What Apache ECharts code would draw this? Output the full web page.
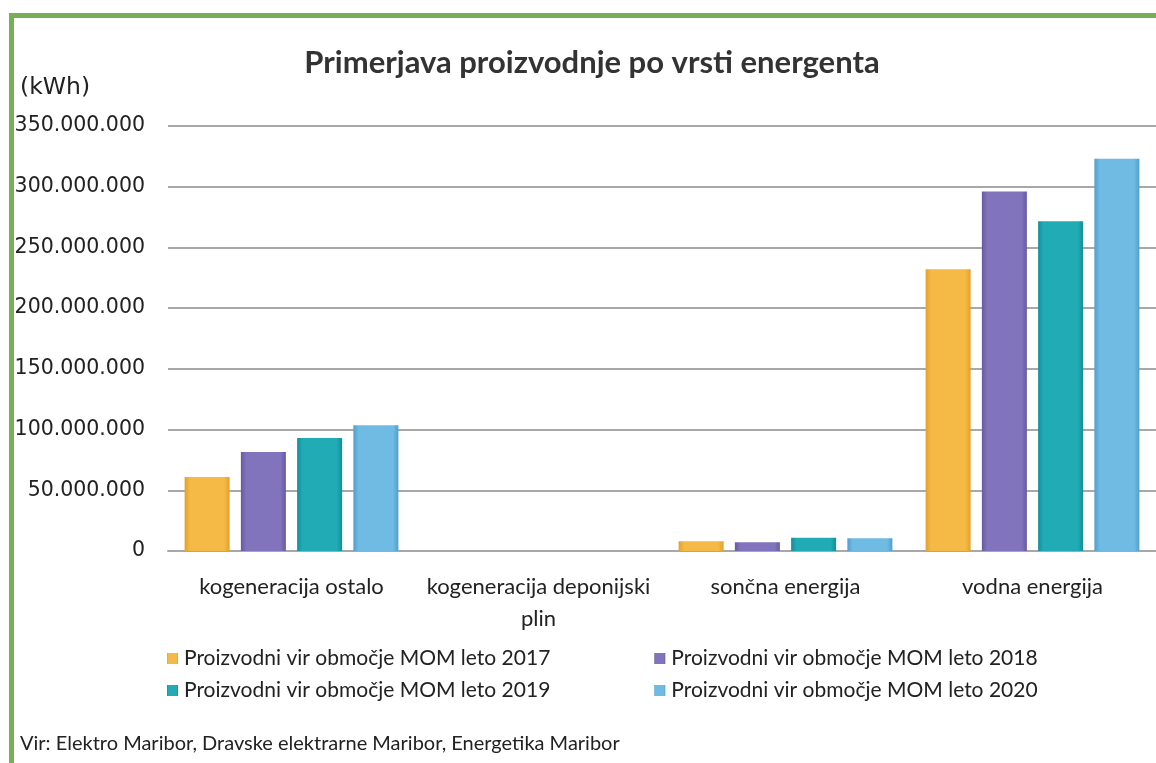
<!DOCTYPE html>
<html>
<head>
<meta charset="utf-8">
<script src="https://cdn.jsdelivr.net/npm/echarts@6/dist/echarts.min.js"></script>
<style>html,body{margin:0;padding:0;background:#fff;}#c{width:1156px;height:763px;}</style>
</head>
<body>
<div id="c"></div>
<script>
const categories = ['kogeneracija ostalo', 'kogeneracija deponijski\nplin', 'sončna energija', 'vodna energija'];
const seriesNames = ['Proizvodni vir območje MOM leto 2017', 'Proizvodni vir območje MOM leto 2018', 'Proizvodni vir območje MOM leto 2019', 'Proizvodni vir območje MOM leto 2020'];
const values2017 = [61000000, 0, 8000000, 232000000];
const values2018 = [81500000, 0, 7200000, 296000000];
const values2019 = [93000000, 0, 11000000, 271500000];
const values2020 = [103500000, 0, 10500000, 323000000];
const yTicks = [0, 50000000, 100000000, 150000000, 200000000, 250000000, 300000000, 350000000];

const colors = [
  ['#E3A02A', '#F4BA45'],
  ['#665AA3', '#8174BD'],
  ['#10909A', '#21ABB5'],
  ['#509FCC', '#6FBBE3']
];
const allValues = [values2017, values2018, values2019, values2020];

function fmt(v) {
  return String(v).replace(/\B(?=(\d{3})+(?!\d))/g, '.');
}
const textFont = "'Lato', sans-serif";

const chart = echarts.init(document.getElementById('c'));
const series = allValues.map((vals, i) => ({
  name: seriesNames[i],
  type: 'bar',
  data: vals,
  barWidth: 45,
  barGap: '25%',
  itemStyle: {
    color: new echarts.graphic.LinearGradient(0, 0, 1, 0, [
      {offset: 0, color: colors[i][0]},
      {offset: 0.12, color: colors[i][1]},
      {offset: 0.88, color: colors[i][1]},
      {offset: 1, color: colors[i][0]}
    ]),
    borderWidth: 0
  }
}));

chart.setOption({
  animation: false,
  backgroundColor: '#fff',
  color: colors.map(c => c[1]),
  title: {
    text: 'Primerjava proizvodnje po vrsti energenta',
    left: 587, top: 42, textAlign: 'center',
    textStyle: {fontFamily: textFont, fontWeight: 'bold', fontSize: 31, color: '#333'}
  },
  legend: [
    {
      data: [seriesNames[0], seriesNames[1]],
      left: 162, top: 643, itemWidth: 11, itemHeight: 11, itemGap: 104,
      icon: 'rect',
      textStyle: {fontFamily: textFont, fontSize: 21, color: '#222', padding: [0, 0, 0, 1]}
    },
    {
      data: [seriesNames[2], seriesNames[3]],
      left: 162, top: 675, itemWidth: 11, itemHeight: 11, itemGap: 104,
      icon: 'rect',
      textStyle: {fontFamily: textFont, fontSize: 21, color: '#222', padding: [0, 0, 0, 1]}
    }
  ],
  grid: {left: 168, top: 126, width: 996, height: 425},
  xAxis: {
    type: 'category',
    data: categories,
    axisTick: {show: false},
    axisLine: {lineStyle: {color: '#A8A8A8', width: 2}},
    axisLabel: {
      fontFamily: textFont, fontSize: 22, color: '#222', margin: 20, lineHeight: 32,
      interval: 0
    }
  },
  yAxis: {
    type: 'value',
    min: yTicks[0], max: yTicks[yTicks.length - 1], interval: yTicks[1] - yTicks[0],
    axisLine: {show: false},
    axisTick: {show: false},
    splitLine: {lineStyle: {color: '#A8A8A8', width: 2}},
    axisLabel: {
      fontFamily: "'DejaVu Sans', sans-serif", fontSize: 20.5, color: '#222', margin: 23,
      formatter: v => fmt(v)
    }
  },
  graphic: [
    {type: 'rect', shape: {x: 9, y: 13, width: 1147, height: 5}, style: {fill: '#78AE55'}, z: 10},
    {type: 'rect', shape: {x: 9, y: 13, width: 5, height: 750}, style: {fill: '#78AE55'}, z: 10},
    {type: 'text', left: 20, top: 76, style: {text: '(kWh)', fontFamily: "'DejaVu Sans', sans-serif", fontSize: 23.5, fill: '#222'}},
    {type: 'text', left: 20, top: 734, style: {text: 'Vir: Elektro Maribor, Dravske elektrarne Maribor, Energetika Maribor', fontFamily: textFont, fontSize: 20, fill: '#222'}}
  ],
  series: series
});
</script>
</body>
</html>
